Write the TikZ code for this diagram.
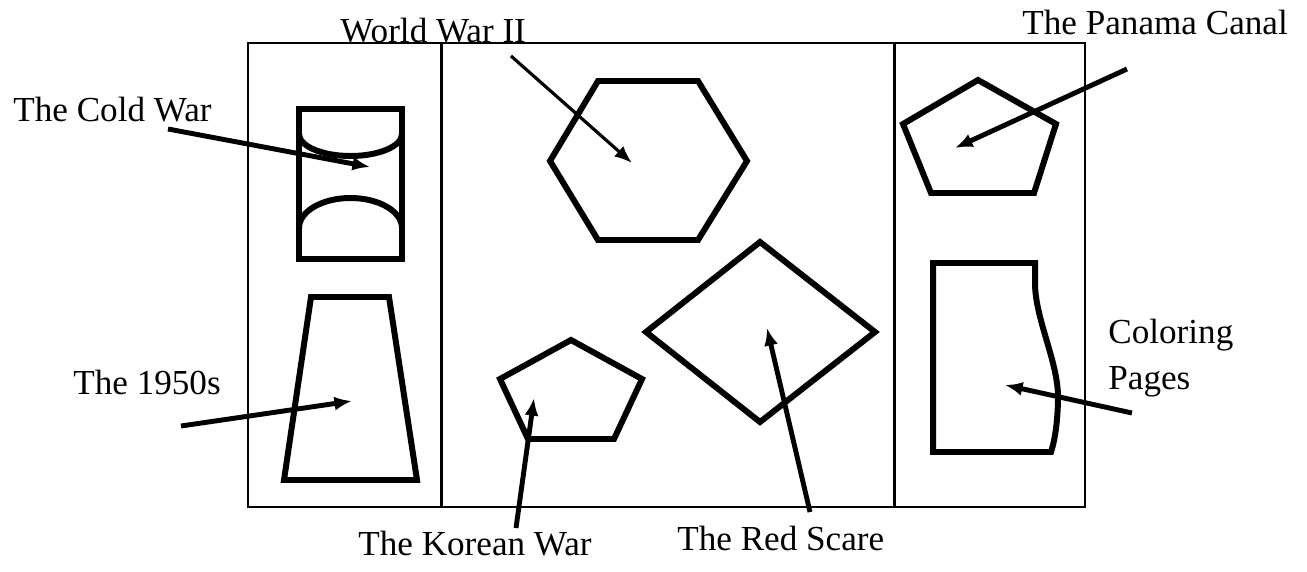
\documentclass[tikz,border=0pt]{standalone}
\usepackage{fontspec}
\setmainfont{Liberation Serif}
\usepackage{tikz}
\usetikzlibrary{arrows.meta,positioning}
\tikzset{
  outline/.style={line width=3.4pt,line join=miter},
  lbl/.style={inner sep=0pt,anchor=base west,font=\fontsize{20}{26}\selectfont},
  ptr/.style={->,line width=2.8pt},
}

\begin{document}
\begin{tikzpicture}[x=0.02cm,y=-0.02cm,>={Latex[length=10pt,width=8pt]}]
\useasboundingbox (0,0) rectangle (1307,571);
% frame and columns
\draw[line width=1.1pt] (248,43) rectangle (1085,507);
\draw[line width=1.7pt] (441,43)--(441,507);
\draw[line width=1.7pt] (894,43)--(894,507);
% left column
\draw[outline] (299,109) rectangle (402,259);
\draw[outline] (299,134) arc[start angle=180,end angle=0,x radius=51.5,y radius=22];
\draw[outline] (299,228) arc[start angle=180,end angle=360,x radius=51.5,y radius=30];
\draw[outline] (311,297)--(389,297)--(417,480)--(284,480)--cycle;
% middle column
\draw[outline] (598,81)--(698,81)--(747,161)--(698,240)--(598,240)--(550,161)--cycle;
\draw[outline] (571,340)--(642,379)--(614,439)--(528,439)--(500,379)--cycle;
\draw[outline] (760,242)--(875,332)--(760,422)--(646,332)--cycle;
% right column
\draw[outline] (978,80)--(1056,124)--(1034,193)--(931,193)--(903,124)--cycle;
\draw[outline] (933,263)--(1035,263)--(1035,285)
  .. controls (1036,320) and (1057,360) .. (1058,395)
  .. controls (1058,420) and (1055,440) .. (1051,452)--(933,452)--cycle;
% labels
\node[lbl] (coldwar) at (13,121) {The Cold War};
\node[lbl] (wwii) at (340,43) {World War II};
\node[lbl] (panama) at (1022,35) {The Panama Canal};
\node[lbl] (fifties) at (73,394) {The 1950s};
\node[lbl] (korean) at (358,555) {The Korean War};
\node[lbl] (redscare) at (677,550) {The Red Scare};
\node[lbl,align=left] (coloring) at (1108,389) {Coloring\\Pages};
% arrow ends
\coordinate (coldwar-s) at (168,129);  \coordinate (coldwar-t) at (370,167);
\coordinate (wwii-s) at (511,56);      \coordinate (wwii-t) at (632,163);
\coordinate (panama-s) at (1127,69);   \coordinate (panama-t) at (955,148);
\coordinate (fifties-s) at (181,426);  \coordinate (fifties-t) at (352,401);
\coordinate (korean-s) at (516,528);   \coordinate (korean-t) at (534,398);
\coordinate (redscare-s) at (810,512); \coordinate (redscare-t) at (767,328);
\coordinate (coloring-s) at (1132,413);\coordinate (coloring-t) at (1005,385);
\draw[ptr] (coldwar-s)--(coldwar-t);
\draw[ptr,line width=1.8pt] (wwii-s)--(wwii-t);
\draw[ptr] (panama-s)--(panama-t);
\draw[ptr] (fifties-s)--(fifties-t);
\draw[ptr] (korean-s)--(korean-t);
\draw[ptr] (redscare-s)--(redscare-t);
\draw[ptr] (coloring-s)--(coloring-t);
\end{tikzpicture}
\end{document}
